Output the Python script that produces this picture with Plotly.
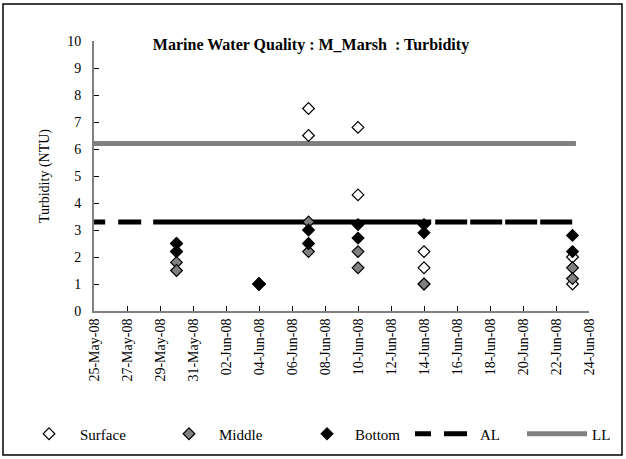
import plotly.graph_objects as go

# sampling dates, two readings per depth on each date
sample_dates = ["2008-05-30", "2008-06-04", "2008-06-07",
                "2008-06-10", "2008-06-14", "2008-06-23"]
surface = [2.5, 2.2, 1.0, 1.0, 7.5, 6.5, 6.8, 4.3, 2.2, 1.6, 2.0, 1.0]
middle = [1.8, 1.5, 1.0, 1.0, 3.3, 2.2, 2.2, 1.6, 1.0, 1.0, 1.6, 1.2]
bottom = [2.5, 2.2, 1.0, 1.0, 3.0, 2.5, 3.2, 2.7, 3.2, 2.9, 2.8, 2.2]

# action level / limit level
al_dates = ["2008-05-24 17:00", "2008-06-23 00:00"]
al_value = [3.3, 3.3]
ll_dates = ["2008-05-24 17:00", "2008-06-23 05:00"]
ll_value = [6.2, 6.2]

x_range = ["2008-05-25", "2008-06-24"]
y_range = [0, 10]

xs = [d for d in sample_dates for _ in range(2)]

FONT = "Liberation Serif"
PW, PH = 495, 270  # plot area size in px

fig = go.Figure()

fig.add_trace(go.Scatter(x=ll_dates, y=ll_value, mode="lines", name="LL",
                         line=dict(color="#808080", width=5),
                         legend="legend5"))
fig.add_trace(go.Scatter(x=al_dates, y=al_value, mode="lines", name="AL",
                         line=dict(color="black", width=5,
                                   dash="16px,13px,23px,12px,278px,4px,32px,3px,32px,3px,32px,3px,32px"),
                         legend="legend4"))

marker_styles = [("Surface", surface, "white", "legend"),
                 ("Middle", middle, "#808080", "legend2"),
                 ("Bottom", bottom, "black", "legend3")]
for name, vals, col, lg in marker_styles:
    fig.add_trace(go.Scatter(x=xs, y=vals, mode="markers", name=name,
                             marker=dict(symbol="diamond", size=9, color=col,
                                         line=dict(color="black", width=1.2)),
                             cliponaxis=False, legend=lg))

# outer frame
fig.add_shape(type="rect", xref="paper", yref="paper",
              x0=-91 / PW, x1=528 / PW, y0=-144 / PH, y1=307 / PH,
              line=dict(color="black", width=1.5), fillcolor="rgba(0,0,0,0)")


def leg(px, iw):
    return dict(orientation="h", x=(px - 94) / PW, xanchor="left",
                y=-123 / PH, yanchor="middle", itemwidth=iw,
                font=dict(family=FONT, size=15), bgcolor="rgba(0,0,0,0)")


fig.update_layout(
    width=626, height=459,
    margin=dict(l=94, r=37, t=41, b=148, autoexpand=False),
    paper_bgcolor="white", plot_bgcolor="white",
    font=dict(family=FONT, size=14, color="black"),
    title=dict(text="<b>Marine Water Quality : M_Marsh \u00a0: Turbidity</b>",
               x=311 / 626, xanchor="center", y=1 - 44 / 459, yanchor="middle",
               font=dict(family=FONT, size=16)),
    showlegend=True,
    legend=leg(18, 52), legend2=leg(159, 50), legend3=leg(299, 46),
    legend4=leg(410, 60), legend5=leg(522, 60),
)

fig.update_xaxes(type="date", range=x_range, tickformat="%d-%b-%y",
                 dtick=2 * 86400000, tick0="2008-05-25", tickangle=-90,
                 ticks="inside", ticklen=5, tickcolor="black",
                 showline=True, linecolor="#808080", linewidth=2,
                 showgrid=False, zeroline=False,
                 tickfont=dict(family=FONT, size=14))
fig.update_yaxes(range=y_range, dtick=1, ticks="inside", ticklen=5,
                 tickcolor="black", showline=True, linecolor="#808080",
                 linewidth=2, showgrid=False, zeroline=False,
                 ticklabelstandoff=8,
                 title=dict(text="Turbidity (NTU)", standoff=14,
                            font=dict(family=FONT, size=14)),
                 tickfont=dict(family=FONT, size=14))

fig.write_html("out.html", config={"displayModeBar": False},
               post_script="document.body.style.margin='0';"
                           "document.body.style.overflow='hidden';")
